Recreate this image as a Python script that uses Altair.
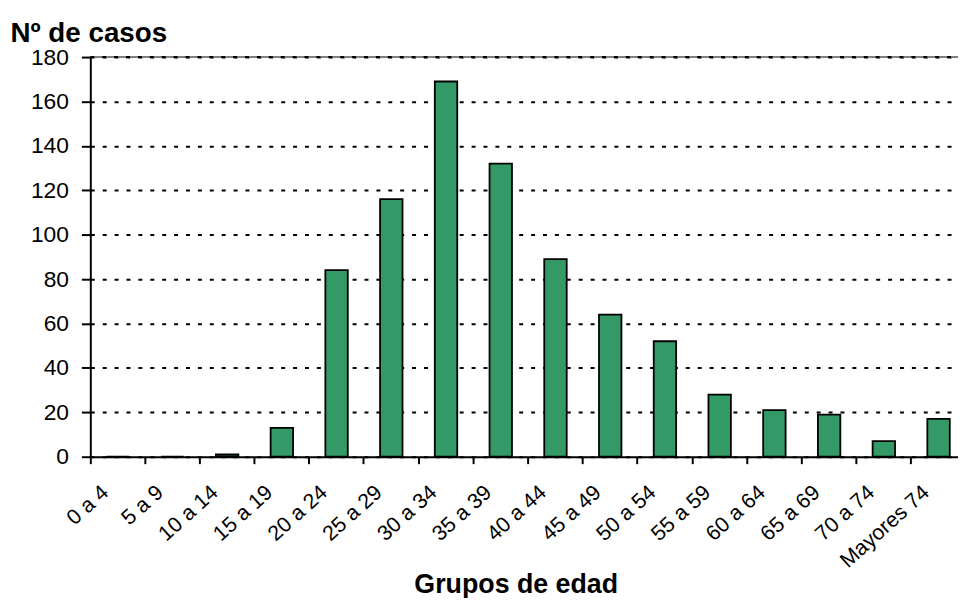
import altair as alt
import pandas as pd

grupos = ["0 a 4", "5 a 9", "10 a 14", "15 a 19", "20 a 24", "25 a 29", "30 a 34",
          "35 a 39", "40 a 44", "45 a 49", "50 a 54", "55 a 59", "60 a 64", "65 a 69",
          "70 a 74", "Mayores 74"]
casos = [0, 0, 1, 13, 84, 116, 169, 132, 89, 64, 52, 28, 21, 19, 7, 17]
y_ticks = list(range(0, 181, 20))
y_top = [180]

df = pd.DataFrame({"grupo": grupos, "casos": casos})
top_df = pd.DataFrame({"y": y_top})

FONT = "Liberation Sans, Arial, sans-serif"

x_enc = alt.X(
    "grupo:N",
    sort=grupos,
    scale=alt.Scale(paddingInner=0, paddingOuter=0, range=[0, 883]),
    axis=alt.Axis(
        title="Grupos de edad",
        bandPosition=0,
        labelAngle=-42,
        labelAlign="right",
        labelBaseline="middle",
        labelOffset=-12,
        labelPadding=26,
        labelOverlap=False,
        labelFont=FONT,
        labelFontSize=21.5,
        labelColor="black",
        tickSize=7,
        tickWidth=2,
        tickColor="black",
        domainWidth=2,
        domainColor="black",
        grid=False,
        titleFont=FONT,
        titleFontSize=27,
        titleFontWeight="bold",
        titleColor="black",
        titleX=429,
        titleY=137,
        titleAlign="center",
        titleBaseline="alphabetic",
        zindex=1,
    ),
)

y_enc = alt.Y(
    "casos:Q",
    scale=alt.Scale(domain=[0, 180], nice=False),
    axis=alt.Axis(
        title="Nº de casos",
        values=y_ticks,
        tickSize=9,
        tickWidth=2,
        tickColor="black",
        domainWidth=2,
        domainColor="black",
        labelPadding=13,
        labelFont=FONT,
        labelFontSize=23,
        labelColor="black",
        grid=True,
        gridColor="black",
        gridDash=[4, 8],
        gridWidth=2,
        titleFont=FONT,
        titleFontSize=28,
        titleFontWeight="bold",
        titleColor="black",
        titleAngle=0,
        titleX=-81,
        titleY=-16,
        titleAlign="left",
        titleBaseline="alphabetic",
    ),
)

bars = alt.Chart(df).mark_bar(
    color="#339966", stroke="black", strokeWidth=1.8, width=alt.RelativeBandSize(0.41)
).encode(x=x_enc, y=y_enc)

top_gray = alt.Chart(top_df).mark_rule(color="#808080", strokeWidth=2).encode(
    y=alt.Y("y:Q"), x=alt.value(0), x2=alt.value(883)
)
top_dash = alt.Chart(top_df).mark_rule(color="black", strokeWidth=2, strokeDash=[4, 8]).encode(
    y=alt.Y("y:Q"), x=alt.value(0), x2=alt.value(883)
)

chart = alt.layer(bars, top_gray, top_dash).properties(
    width=875,
    height=403,
    padding={"left": 83, "top": 47, "right": 0, "bottom": 140},
    autosize=alt.AutoSizeParams(type="none"),
).configure_view(stroke=None).configure(background="white")

chart.save("out.html", embed_options={"renderer": "svg", "actions": False})
